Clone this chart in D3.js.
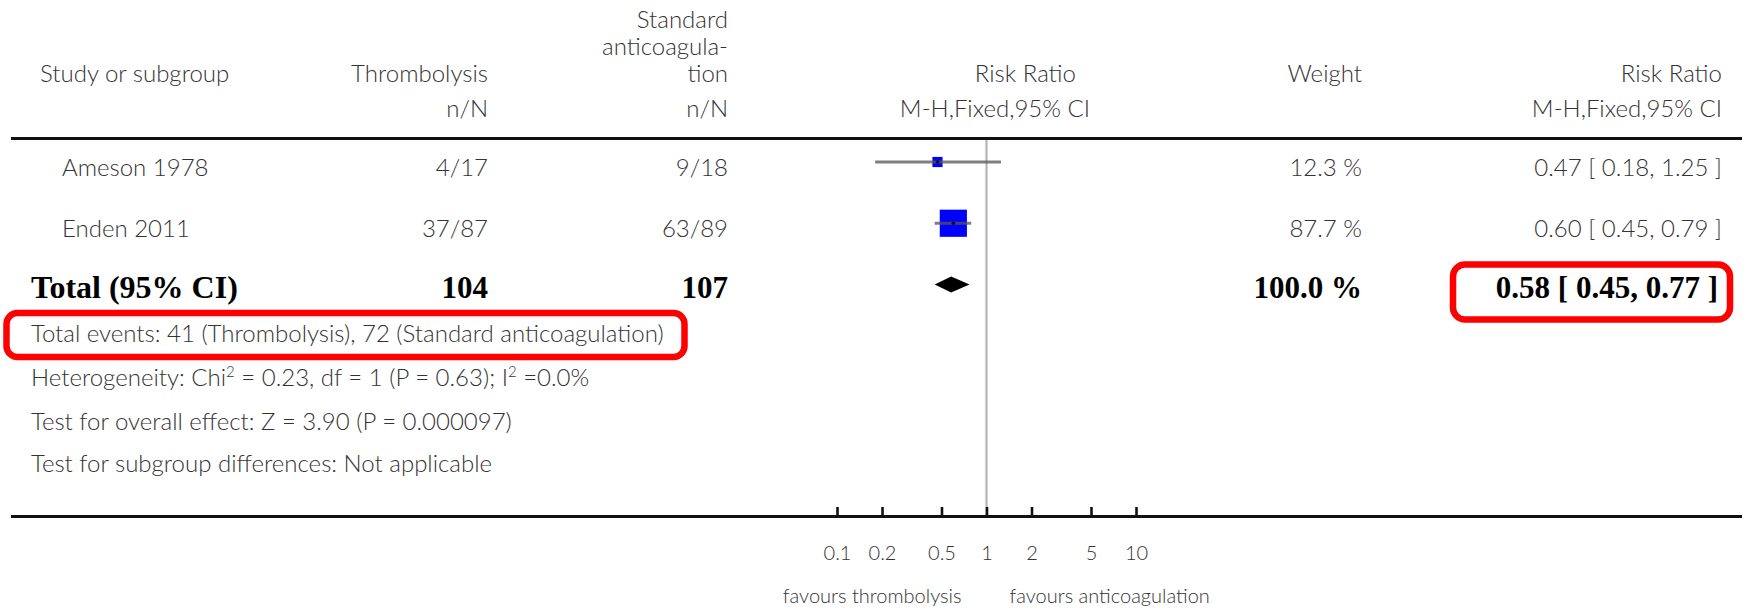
<!DOCTYPE html>
<html>
<head>
<meta charset="utf-8">
<script src="https://cdn.jsdelivr.net/npm/d3@7"></script>
<style>
  html, body { margin: 0; padding: 0; background: #fff; }
  svg { display: block; }
  .sans { font-family: Lato, "Open Sans", "DejaVu Sans", sans-serif; font-weight: 300; fill: #333; }
  .serif { font-family: "Liberation Serif", "DejaVu Serif", serif; font-weight: bold; fill: #000; }
</style>
</head>
<body>
<svg id="chart" width="1748" height="610"></svg>
<script>
// ---------- data ----------
const studies = ["Ameson 1978", "Enden 2011"];
const thrombEvents = [4, 37];
const thrombTotal = [17, 87];
const anticoagEvents = [9, 63];
const anticoagTotal = [18, 89];
const riskRatio = [0.47, 0.60];
const ciLow = [0.18, 0.45];
const ciHigh = [1.25, 0.79];
const weights = [12.3, 87.7];
const totalLabel = "Total (95% CI)";
const totalThromb = 104;
const totalAnticoag = 107;
const totalRR = 0.58;
const totalLow = 0.45;
const totalHigh = 0.77;
const totalWeight = 100.0;
const tickValues = [0.1, 0.2, 0.5, 1, 2, 5, 10];
const tickLabels = ["0.1", "0.2", "0.5", "1", "2", "5", "10"];
const footerLines = [
  "Total events: 41 (Thrombolysis), 72 (Standard anticoagulation)",
  "Heterogeneity: Chi|2| = 0.23, df = 1 (P = 0.63); I|2| =0.0%",
  "Test for overall effect: Z = 3.90 (P = 0.000097)",
  "Test for subgroup differences: Not applicable"
];
const favourLeft = "favours thrombolysis";
const favourRight = "favours anticoagulation";

// ---------- layout ----------
const svg = d3.select("#chart");
const FS = 24;
const BFS = 31;
const x = d3.scaleLog().domain([0.1, 10]).range([837, 1136]);
const rowY = d3.scalePoint().domain(studies.concat([totalLabel])).range([162, 284.5]);
const textDy = 14;
const sq = d3.scaleSqrt().domain([0, 100]).range([0, 29]);
const colThromb = 488, colAnti = 728, colWeight = 1362, colRR = 1722;

function sText(t, xx, yy, anchor, cls, size) {
  return svg.append("text").attr("class", cls || "sans")
    .attr("x", xx).attr("y", yy)
    .attr("text-anchor", anchor || "start")
    .attr("font-size", size || FS)
    .text(t);
}

// headers
sText("Study or subgroup", 40, 82);
sText("Thrombolysis", colThromb, 82, "end");
sText("Standard", colAnti, 28, "end");
sText("anticoagula-", colAnti, 55, "end");
sText("tion", colAnti, 82, "end");
sText("Risk Ratio", 1076, 82, "end");
sText("Weight", colWeight, 82, "end");
sText("Risk Ratio", colRR, 82, "end");
sText("n/N", colThromb, 117, "end");
sText("n/N", colAnti, 117, "end");
sText("M-H,Fixed,95% CI", 1090, 117, "end");
sText("M-H,Fixed,95% CI", colRR, 117, "end");

// top rule
svg.append("line").attr("x1", 11).attr("x2", 1742).attr("y1", 138.5).attr("y2", 138.5)
  .attr("stroke", "#111").attr("stroke-width", 3.2);

// reference line at RR = 1
svg.append("line").attr("x1", x(1)).attr("x2", x(1)).attr("y1", 140).attr("y2", 516)
  .attr("stroke", "#b5b5b5").attr("stroke-width", 2.2);

// study rows
const f2 = d3.format(".2f");
studies.forEach((s, i) => {
  const y = rowY(s);
  sText(s, 62, y + textDy);
  sText(thrombEvents[i] + "/" + thrombTotal[i], colThromb, y + textDy, "end");
  sText(anticoagEvents[i] + "/" + anticoagTotal[i], colAnti, y + textDy, "end");
  sText(d3.format(".1f")(weights[i]) + " %", colWeight, y + textDy, "end");
  sText(f2(riskRatio[i]) + " [ " + f2(ciLow[i]) + ", " + f2(ciHigh[i]) + " ]", colRR, y + textDy, "end");
  const s2 = sq(weights[i]);
  svg.append("rect").attr("x", x(riskRatio[i]) - s2 / 2).attr("y", y - s2 / 2)
    .attr("width", s2).attr("height", s2).attr("fill", "#0000ff");
  svg.append("line").attr("x1", x(ciLow[i])).attr("x2", x(ciHigh[i])).attr("y1", y).attr("y2", y)
    .attr("stroke", "#555").attr("stroke-opacity", 0.75).attr("stroke-width", 3);
  svg.append("circle").attr("cx", x(riskRatio[i])).attr("cy", y).attr("r", 1.8).attr("fill", "#111");
});

// total row
const ty = rowY(totalLabel);
sText(totalLabel, 31, ty + 13, "start", "serif", BFS + 1);
sText(String(totalThromb), colThromb, ty + 13, "end", "serif", BFS);
sText(String(totalAnticoag), colAnti, ty + 13, "end", "serif", BFS);
sText(d3.format(".1f")(totalWeight) + " %", colWeight, ty + 13, "end", "serif", BFS);
sText(f2(totalRR) + " [ " + f2(totalLow) + ", " + f2(totalHigh) + " ]", 1718, ty + 13, "end", "serif", BFS);
svg.append("path")
  .attr("d", `M${x(totalLow)},${ty} L${x(totalRR)},${ty - 8} L${x(totalHigh)},${ty} L${x(totalRR)},${ty + 8} Z`)
  .attr("fill", "#000");

// footer lines
const footY = [342, 386, 430, 472];
footerLines.forEach((t, i) => {
  const el = svg.append("text").attr("class", "sans").attr("x", 31).attr("y", footY[i]).attr("font-size", FS);
  let raised = false;
  t.split("|").forEach((part, j) => {
    if (j % 2 === 1) {
      el.append("tspan").attr("font-size", 15).attr("dy", -9).text(part);
      raised = true;
    } else {
      const ts = el.append("tspan").text(part);
      if (raised) { ts.attr("dy", 9); raised = false; }
    }
  });
});

// bottom axis
svg.append("line").attr("x1", 11).attr("x2", 1742).attr("y1", 516.5).attr("y2", 516.5)
  .attr("stroke", "#111").attr("stroke-width", 3.2);
const axis = d3.axisBottom(x).tickValues(tickValues)
  .tickFormat((d, i) => tickLabels[i]).tickSizeInner(-9).tickSizeOuter(0).tickPadding(28);
const ag = svg.append("g").attr("transform", "translate(0,516)").call(axis);
ag.select(".domain").remove();
ag.selectAll(".tick line").attr("stroke", "#111").attr("stroke-width", 2.6);
ag.selectAll(".tick text").attr("class", "sans").attr("font-size", 20)
  .attr("dy", null).attr("y", 44).style("fill", "#333");

sText(favourLeft, x(1) - 25, 603, "end", "sans", 20);
sText(favourRight, x(1) + 23, 603, "start", "sans", 20);

// red highlight boxes
svg.append("rect").attr("x", 6.5).attr("y", 313).attr("width", 678).attr("height", 44)
  .attr("rx", 11).attr("fill", "none").attr("stroke", "#ff0000").attr("stroke-width", 6.5);
svg.append("rect").attr("x", 1453).attr("y", 264.5).attr("width", 277).attr("height", 55)
  .attr("rx", 12).attr("fill", "none").attr("stroke", "#ff0000").attr("stroke-width", 6.5);
</script>
</body>
</html>
